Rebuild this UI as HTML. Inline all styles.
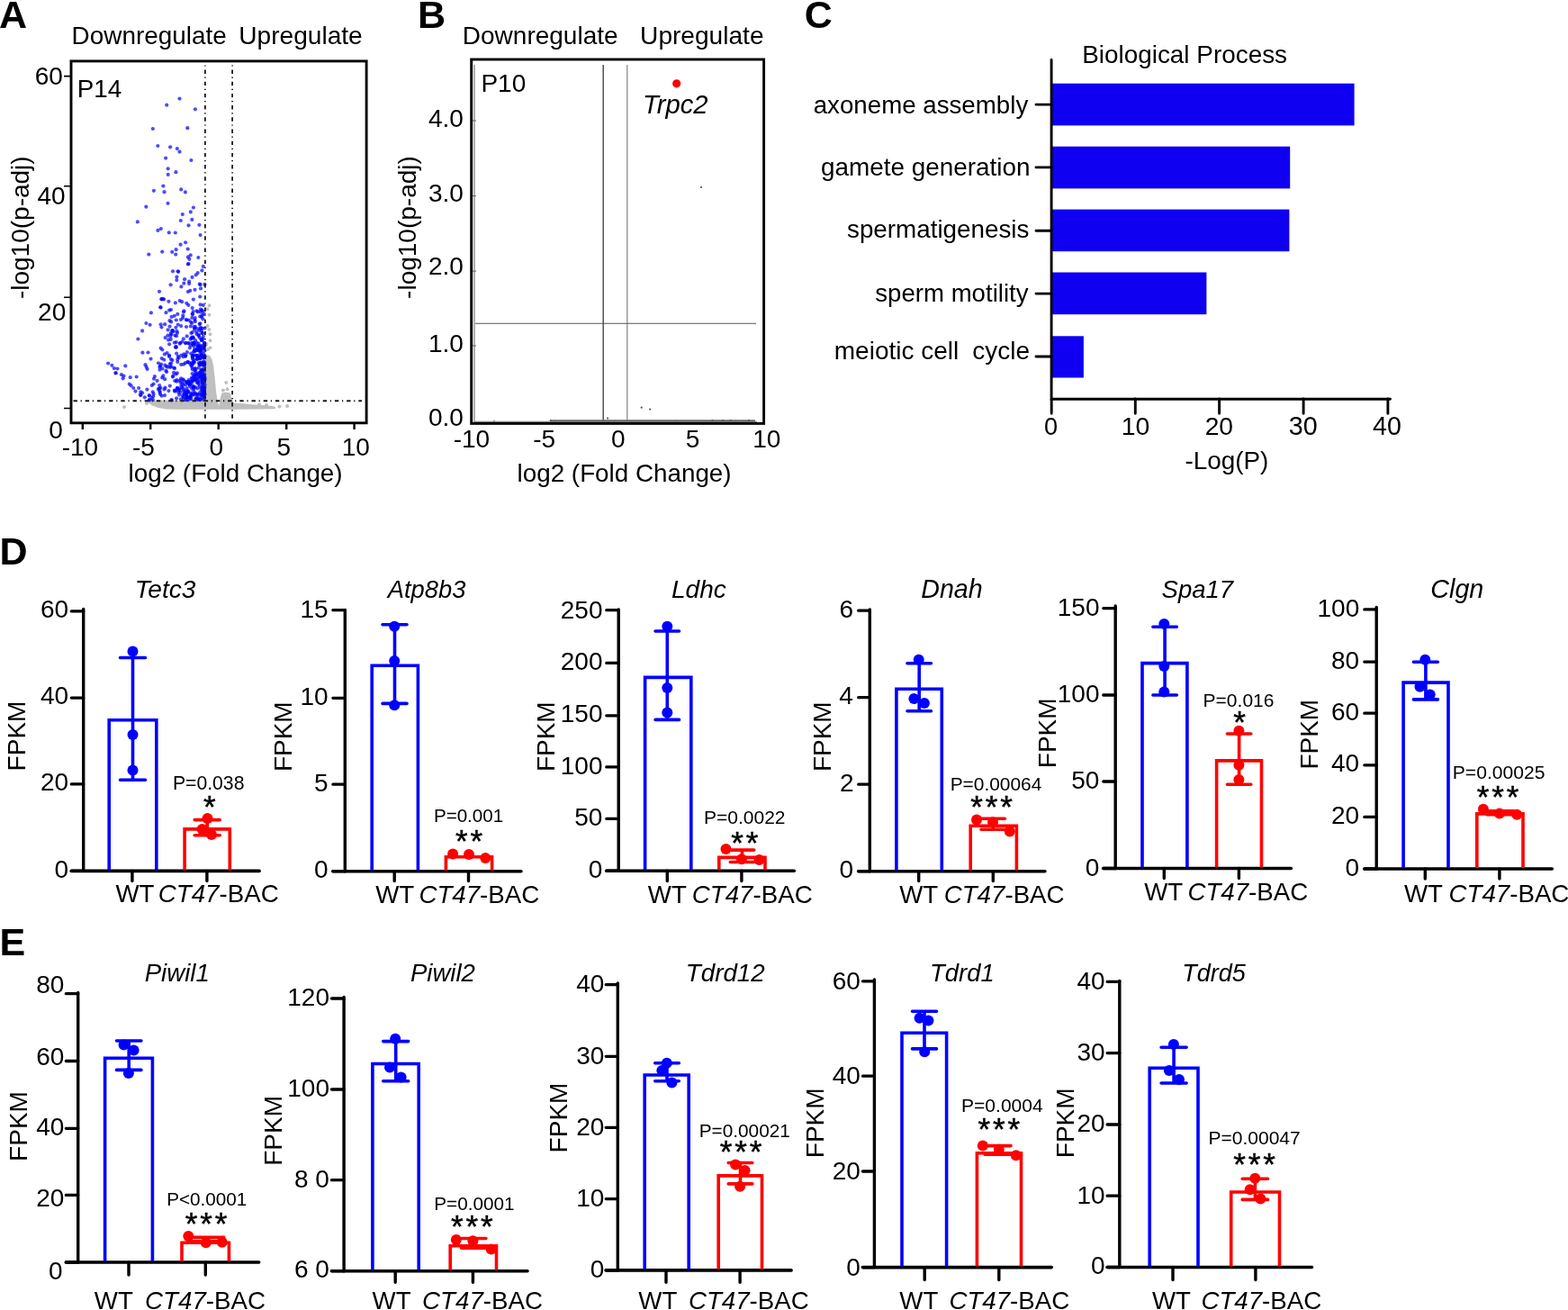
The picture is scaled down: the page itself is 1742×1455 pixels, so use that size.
<!DOCTYPE html><html><head><meta charset="utf-8"><title>Figure</title><style>html,body{margin:0;padding:0;background:#fff;}svg{display:block;}</style></head><body>
<svg width="1742" height="1455" viewBox="0 0 1742 1455" font-family="&#39;Liberation Sans&#39;, Arial, Helvetica, sans-serif" fill="#000">
<rect width="1742" height="1455" fill="#fff"/>
<text x="79.6" y="48.8" font-size="27.9">Downregulate</text>
<text x="265.3" y="48.8" font-size="28.1">Upregulate</text>
<text x="85.8" y="108" font-size="27.8">P14</text>
<text x="38.7" y="94.2" font-size="28">60</text>
<text x="41.4" y="226.8" font-size="28">40</text>
<text x="42.1" y="356" font-size="28">20</text>
<text x="54.2" y="487.2" font-size="28">0</text>
<text transform="translate(31.6 330.8) rotate(-90)" x="-1.3" font-size="28">-log10(p-adj)</text>
<text x="68.7" y="505.9" font-size="28">-10</text>
<text x="146.9" y="505.9" font-size="28">-5</text>
<text x="232.4" y="505.9" font-size="28">0</text>
<text x="307.5" y="505.9" font-size="28">5</text>
<text x="379.8" y="505.9" font-size="28">10</text>
<text x="142.6" y="534.5" font-size="27.8">log2 (Fold Change)</text>
<path d="M164 445.5L175 444.6L228 444.6L228 398L230.5 394L233 395L235.5 399L237.2 406.5L238.8 421L240.2 436L241.5 444L242.6 449L243.3 450.5L244.2 446L245.2 440L246.5 436.5L251 435.5L256 436.8L257.2 443L260 447.5L270 448.3L280 449.3L292 450L300 450.8L305 451.5L306.5 453L305 454.3L260 454.8L200 454.8L185 454.6L176 453L169 450.5L164.5 447Z" fill="#bfbfbf"/>
<path d="M233.5 386.3h0M233.5 378.3h0M233.5 371.3h0M232.3 366h0M230.6 362h0M232.5 349.8h0M232.5 339.3h0M230.4 343.3h0M229.5 382h0M231 388h0M251.3 425h0M252.5 432.3h0M248 433.5h0M254.3 439h0M138 451.9h0M163 448h0M310.5 451.5h0M319 451h0M296 450h0M288 449.5h0" stroke="#bfbfbf" stroke-width="4" stroke-linecap="round" fill="none"/>
<g fill="#0000ff" fill-opacity="0.7"><circle cx="199.5" cy="109.6" r="2.1"/><circle cx="185.2" cy="116.7" r="2.1"/><circle cx="216.9" cy="121.3" r="2.1"/><circle cx="169.8" cy="143" r="2.1"/><circle cx="208.3" cy="142.2" r="2.1"/><circle cx="175.3" cy="162" r="2.1"/><circle cx="189.1" cy="163.3" r="2.1"/><circle cx="196.8" cy="165.1" r="2.1"/><circle cx="199.5" cy="168.6" r="2.1"/><circle cx="184.1" cy="175.6" r="2.1"/><circle cx="212.4" cy="178" r="2.1"/><circle cx="186.7" cy="187.3" r="2.1"/><circle cx="195.4" cy="191.2" r="2.1"/><circle cx="186.7" cy="193.9" r="2.1"/><circle cx="181.4" cy="206.6" r="2.1"/><circle cx="170.9" cy="211.8" r="2.1"/><circle cx="182.5" cy="213.2" r="2.1"/><circle cx="201.2" cy="210.4" r="2.1"/><circle cx="205.9" cy="213.4" r="2.1"/><circle cx="186.5" cy="225.8" r="2.1"/><circle cx="162.3" cy="229.7" r="2.1"/><circle cx="214.9" cy="230.5" r="2.1"/><circle cx="211.8" cy="235.4" r="2.1"/><circle cx="202.8" cy="238.1" r="2.1"/><circle cx="152.8" cy="246.4" r="2.1"/><circle cx="200.8" cy="245" r="2.1"/><circle cx="213.3" cy="243.9" r="2.1"/><circle cx="209.5" cy="250.3" r="2.1"/><circle cx="221.4" cy="249.8" r="2.1"/><circle cx="175.4" cy="255.9" r="2.1"/><circle cx="178.8" cy="254.1" r="2.1"/><circle cx="187.8" cy="258.3" r="2.1"/><circle cx="194.8" cy="258.5" r="2.1"/><circle cx="222.6" cy="261.1" r="2.1"/><circle cx="206.1" cy="269.3" r="2.1"/><circle cx="200.6" cy="271.7" r="2.1"/><circle cx="195.6" cy="277.2" r="2.1"/><circle cx="208.7" cy="276.6" r="2.1"/><circle cx="180.2" cy="279.6" r="2.1"/><circle cx="191.2" cy="279.8" r="2.1"/><circle cx="195.2" cy="282.6" r="2.1"/><circle cx="165.3" cy="282.6" r="2.1"/><circle cx="211.7" cy="283.4" r="2.1"/><circle cx="208.9" cy="285.4" r="2.1"/><circle cx="210.3" cy="287.8" r="2.1"/><circle cx="220.3" cy="286" r="2.1"/><circle cx="208.9" cy="293.4" r="2.1"/><circle cx="209.5" cy="293" r="2.1"/><circle cx="225.8" cy="295.9" r="2.1"/><circle cx="192" cy="301.3" r="2.1"/><circle cx="197.6" cy="301.3" r="2.1"/><circle cx="198.2" cy="301.8" r="2.1"/><circle cx="224.4" cy="300.4" r="2.1"/><circle cx="219.7" cy="303.1" r="2.1"/><circle cx="217.7" cy="305.3" r="2.1"/><circle cx="213.5" cy="307.9" r="2.1"/><circle cx="196.4" cy="307.5" r="2.1"/><circle cx="196.3" cy="311.1" r="2.1"/><circle cx="205.1" cy="310.2" r="2.1"/><circle cx="210.1" cy="312.7" r="2.1"/><circle cx="210.1" cy="315.1" r="2.1"/><circle cx="204.3" cy="314.7" r="2.1"/><circle cx="189.6" cy="316.3" r="2.1"/><circle cx="201.4" cy="318.4" r="2.1"/><circle cx="221.8" cy="315.5" r="2.1"/><circle cx="222.5" cy="316.2" r="2.1"/><circle cx="227.4" cy="315.9" r="2.1"/><circle cx="223" cy="320.4" r="2.1"/><circle cx="216.5" cy="321.8" r="2.1"/><circle cx="177" cy="323.8" r="2.1"/><circle cx="208.9" cy="324" r="2.1"/><circle cx="211.3" cy="322.8" r="2.1"/><circle cx="222.2" cy="329.6" r="2.1"/><circle cx="214.9" cy="332.6" r="2.1"/><circle cx="179.6" cy="332.3" r="2.1"/><circle cx="182" cy="332.3" r="2.1"/><circle cx="187.4" cy="334.8" r="2.1"/><circle cx="194.8" cy="336.4" r="2.1"/><circle cx="199.7" cy="334" r="2.1"/><circle cx="202.1" cy="335.2" r="2.1"/><circle cx="207.3" cy="336.8" r="2.1"/><circle cx="209.3" cy="338.9" r="2.1"/><circle cx="222.6" cy="338.4" r="2.1"/><circle cx="225.8" cy="338.9" r="2.1"/><circle cx="120.1" cy="403.5" r="2.1"/><circle cx="124.3" cy="405.8" r="2.1"/><circle cx="126.8" cy="409.1" r="2.1"/><circle cx="130.4" cy="409.5" r="2.1"/><circle cx="128.4" cy="414" r="2.1"/><circle cx="128.8" cy="414.5" r="2.1"/><circle cx="139.3" cy="406.4" r="2.1"/><circle cx="134.9" cy="416.2" r="2.1"/><circle cx="137.5" cy="417.6" r="2.1"/><circle cx="136.6" cy="420.3" r="2.1"/><circle cx="144.7" cy="419.2" r="2.1"/><circle cx="151.7" cy="418.5" r="2.1"/><circle cx="143.8" cy="426.5" r="2.1"/><circle cx="145.6" cy="428.3" r="2.1"/><circle cx="148.3" cy="431" r="2.1"/><circle cx="150.5" cy="434.6" r="2.1"/><circle cx="154.1" cy="431" r="2.1"/><circle cx="156.3" cy="435.4" r="2.1"/><circle cx="155.9" cy="438.6" r="2.1"/><circle cx="156.4" cy="439" r="2.1"/><circle cx="158.1" cy="436.3" r="2.1"/><circle cx="160.8" cy="441.3" r="2.1"/><circle cx="165.7" cy="439" r="2.1"/><circle cx="166" cy="439.5" r="2.1"/><circle cx="165.7" cy="444.4" r="2.1"/><circle cx="166.2" cy="444" r="2.1"/><circle cx="170.6" cy="437.7" r="2.1"/><circle cx="163.4" cy="432.6" r="2.1"/><circle cx="153.4" cy="376.5" r="2.1"/><circle cx="158.1" cy="367.4" r="2.1"/><circle cx="162.4" cy="359" r="2.1"/><circle cx="166.6" cy="360.8" r="2.1"/><circle cx="167.9" cy="347.4" r="2.1"/><circle cx="158.4" cy="391.7" r="2.1"/><circle cx="164.5" cy="391.5" r="2.1"/><circle cx="167.5" cy="398.6" r="2.1"/><circle cx="161.5" cy="405.2" r="2.1"/><circle cx="162.6" cy="407.7" r="2.1"/><circle cx="163.6" cy="410" r="2.1"/><circle cx="171.9" cy="418" r="2.1"/><circle cx="171" cy="420.7" r="2.1"/><circle cx="174.6" cy="422.9" r="2.1"/><circle cx="170.6" cy="426.5" r="2.1"/><circle cx="178.5" cy="430.8" r="2.1"/><circle cx="176" cy="403.3" r="2.1"/><circle cx="179.1" cy="404.6" r="2.1"/><circle cx="180.4" cy="409.4" r="2.1"/><circle cx="184.9" cy="407" r="2.1"/><circle cx="181.3" cy="417.4" r="2.1"/><circle cx="183.1" cy="421.2" r="2.1"/><circle cx="178.6" cy="386.7" r="2.1"/><circle cx="180.4" cy="388.5" r="2.1"/><circle cx="182.9" cy="393.4" r="2.1"/><circle cx="178.6" cy="360.4" r="2.1"/><circle cx="183.1" cy="360.2" r="2.1"/><circle cx="179.5" cy="363.5" r="2.1"/><circle cx="178.2" cy="341.2" r="2.1"/><circle cx="178.6" cy="341.6" r="2.1"/><circle cx="179.5" cy="332.2" r="2.1"/><circle cx="181" cy="332.2" r="2.1"/><circle cx="183.6" cy="375.1" r="2.1"/><circle cx="187.1" cy="377.4" r="2.1"/><circle cx="189.8" cy="376.9" r="2.1"/><circle cx="223.8" cy="437.8" r="2.1"/><circle cx="218.5" cy="441.7" r="2.1"/><circle cx="220.4" cy="425.2" r="2.1"/><circle cx="227.2" cy="415.9" r="2.1"/><circle cx="227.3" cy="420.8" r="2.1"/><circle cx="227" cy="440.9" r="2.1"/><circle cx="222.3" cy="393.2" r="2.1"/><circle cx="226.5" cy="433.8" r="2.1"/><circle cx="218.9" cy="384" r="2.1"/><circle cx="219.8" cy="423.2" r="2.1"/><circle cx="212.5" cy="442.9" r="2.1"/><circle cx="214.7" cy="429.9" r="2.1"/><circle cx="226.2" cy="439.5" r="2.1"/><circle cx="224" cy="394" r="2.1"/><circle cx="225.8" cy="410.8" r="2.1"/><circle cx="218.7" cy="424.8" r="2.1"/><circle cx="220.2" cy="442.2" r="2.1"/><circle cx="227.1" cy="434.8" r="2.1"/><circle cx="218" cy="421.2" r="2.1"/><circle cx="223.9" cy="410.6" r="2.1"/><circle cx="221.8" cy="429.3" r="2.1"/><circle cx="215.9" cy="402.5" r="2.1"/><circle cx="224.9" cy="411.3" r="2.1"/><circle cx="220.6" cy="389.5" r="2.1"/><circle cx="217.1" cy="430" r="2.1"/><circle cx="212.4" cy="439.5" r="2.1"/><circle cx="222.4" cy="398.3" r="2.1"/><circle cx="226.1" cy="417.2" r="2.1"/><circle cx="227.3" cy="404.7" r="2.1"/><circle cx="216.4" cy="411.4" r="2.1"/><circle cx="214.4" cy="428.5" r="2.1"/><circle cx="217.7" cy="410" r="2.1"/><circle cx="219.7" cy="419.3" r="2.1"/><circle cx="215.1" cy="384.3" r="2.1"/><circle cx="221.5" cy="405" r="2.1"/><circle cx="227.1" cy="402.4" r="2.1"/><circle cx="218.5" cy="380.5" r="2.1"/><circle cx="215.4" cy="430.2" r="2.1"/><circle cx="222.9" cy="404.7" r="2.1"/><circle cx="227.5" cy="419" r="2.1"/><circle cx="225.9" cy="439.6" r="2.1"/><circle cx="227.1" cy="397.5" r="2.1"/><circle cx="226.4" cy="432.4" r="2.1"/><circle cx="222.8" cy="389.8" r="2.1"/><circle cx="226.9" cy="419.8" r="2.1"/><circle cx="220.2" cy="388.9" r="2.1"/><circle cx="215.4" cy="390.4" r="2.1"/><circle cx="224.4" cy="422" r="2.1"/><circle cx="223.3" cy="388.9" r="2.1"/><circle cx="212.8" cy="437.8" r="2.1"/><circle cx="225.8" cy="433.3" r="2.1"/><circle cx="225.1" cy="417.4" r="2.1"/><circle cx="219.5" cy="431.5" r="2.1"/><circle cx="227.6" cy="421.8" r="2.1"/><circle cx="223.1" cy="411.9" r="2.1"/><circle cx="212.9" cy="403.1" r="2.1"/><circle cx="220.8" cy="408.3" r="2.1"/><circle cx="218" cy="442.6" r="2.1"/><circle cx="213.9" cy="396.6" r="2.1"/><circle cx="214.4" cy="395.3" r="2.1"/><circle cx="222.8" cy="423.1" r="2.1"/><circle cx="226.7" cy="407.1" r="2.1"/><circle cx="227.1" cy="442" r="2.1"/><circle cx="225.4" cy="437.2" r="2.1"/><circle cx="223.5" cy="442.6" r="2.1"/><circle cx="227.6" cy="437.8" r="2.1"/><circle cx="226.7" cy="425.3" r="2.1"/><circle cx="227.4" cy="389.6" r="2.1"/><circle cx="219.1" cy="438" r="2.1"/><circle cx="224.8" cy="426.4" r="2.1"/><circle cx="223.2" cy="439.3" r="2.1"/><circle cx="214.9" cy="380.5" r="2.1"/><circle cx="221.6" cy="417.5" r="2.1"/><circle cx="226.9" cy="440.3" r="2.1"/><circle cx="223.5" cy="431.4" r="2.1"/><circle cx="215.3" cy="437.3" r="2.1"/><circle cx="227.5" cy="383.8" r="2.1"/><circle cx="220.6" cy="438.1" r="2.1"/><circle cx="220.3" cy="443.7" r="2.1"/><circle cx="220.6" cy="381.7" r="2.1"/><circle cx="214.6" cy="402.7" r="2.1"/><circle cx="224.7" cy="425.1" r="2.1"/><circle cx="225.9" cy="397.2" r="2.1"/><circle cx="220.5" cy="396.7" r="2.1"/><circle cx="223.7" cy="433.8" r="2.1"/><circle cx="215.6" cy="381.2" r="2.1"/><circle cx="214.8" cy="394.7" r="2.1"/><circle cx="215.5" cy="399.6" r="2.1"/><circle cx="225.2" cy="415.2" r="2.1"/><circle cx="223.3" cy="443.6" r="2.1"/><circle cx="227.4" cy="430.5" r="2.1"/><circle cx="224.7" cy="403" r="2.1"/><circle cx="212.8" cy="419.9" r="2.1"/><circle cx="213.2" cy="380.9" r="2.1"/><circle cx="212.9" cy="425.3" r="2.1"/><circle cx="225.2" cy="433.6" r="2.1"/><circle cx="225.6" cy="434.9" r="2.1"/><circle cx="218.9" cy="387.6" r="2.1"/><circle cx="215" cy="417.8" r="2.1"/><circle cx="218.4" cy="395.2" r="2.1"/><circle cx="226.9" cy="405.3" r="2.1"/><circle cx="213.7" cy="396.5" r="2.1"/><circle cx="216.7" cy="417.9" r="2.1"/><circle cx="225.8" cy="396" r="2.1"/><circle cx="223.7" cy="395.1" r="2.1"/><circle cx="212.6" cy="423.3" r="2.1"/><circle cx="222.6" cy="384.1" r="2.1"/><circle cx="217.2" cy="436.8" r="2.1"/><circle cx="226.4" cy="437.8" r="2.1"/><circle cx="213.8" cy="394.7" r="2.1"/><circle cx="226.2" cy="393.2" r="2.1"/><circle cx="212.4" cy="405.5" r="2.1"/><circle cx="223.4" cy="413.1" r="2.1"/><circle cx="226.4" cy="444.1" r="2.1"/><circle cx="212.6" cy="406.1" r="2.1"/><circle cx="220.6" cy="385.1" r="2.1"/><circle cx="222.1" cy="389.8" r="2.1"/><circle cx="215.3" cy="434.5" r="2.1"/><circle cx="224.8" cy="429.7" r="2.1"/><circle cx="225" cy="410.5" r="2.1"/><circle cx="224.7" cy="421.8" r="2.1"/><circle cx="226.4" cy="386.9" r="2.1"/><circle cx="223.3" cy="419.2" r="2.1"/><circle cx="219.6" cy="387.3" r="2.1"/><circle cx="222.3" cy="386.3" r="2.1"/><circle cx="221" cy="414.3" r="2.1"/><circle cx="220.7" cy="444" r="2.1"/><circle cx="222" cy="436.1" r="2.1"/><circle cx="227.6" cy="395.2" r="2.1"/><circle cx="225.9" cy="418.2" r="2.1"/><circle cx="217.2" cy="412.6" r="2.1"/><circle cx="223.8" cy="415.2" r="2.1"/><circle cx="220.1" cy="396.3" r="2.1"/><circle cx="226.7" cy="412.3" r="2.1"/><circle cx="224.9" cy="430.7" r="2.1"/><circle cx="216.3" cy="415.9" r="2.1"/><circle cx="220" cy="398.1" r="2.1"/><circle cx="213.7" cy="420.2" r="2.1"/><circle cx="219.1" cy="416.1" r="2.1"/><circle cx="220.8" cy="403" r="2.1"/><circle cx="221.8" cy="414.2" r="2.1"/><circle cx="221.4" cy="384.5" r="2.1"/><circle cx="217.6" cy="389.4" r="2.1"/><circle cx="213.1" cy="431.7" r="2.1"/><circle cx="220.1" cy="384.4" r="2.1"/><circle cx="215.1" cy="438.6" r="2.1"/><circle cx="226.5" cy="420.3" r="2.1"/><circle cx="227" cy="432.8" r="2.1"/><circle cx="227" cy="404.6" r="2.1"/><circle cx="216.1" cy="387.9" r="2.1"/><circle cx="226.1" cy="401.3" r="2.1"/><circle cx="218.3" cy="438.2" r="2.1"/><circle cx="214.3" cy="382.5" r="2.1"/><circle cx="225.3" cy="383.7" r="2.1"/><circle cx="222.7" cy="417.3" r="2.1"/><circle cx="212.2" cy="392.7" r="2.1"/><circle cx="226" cy="421" r="2.1"/><circle cx="220.8" cy="426.9" r="2.1"/><circle cx="225.6" cy="428.2" r="2.1"/><circle cx="217.2" cy="443.9" r="2.1"/><circle cx="220.1" cy="420.4" r="2.1"/><circle cx="227.5" cy="427.4" r="2.1"/><circle cx="218.9" cy="415.6" r="2.1"/><circle cx="227.1" cy="381.2" r="2.1"/><circle cx="216" cy="382.2" r="2.1"/><circle cx="226.7" cy="431.4" r="2.1"/><circle cx="227.3" cy="396.7" r="2.1"/><circle cx="224.6" cy="438.9" r="2.1"/><circle cx="222.3" cy="386.8" r="2.1"/><circle cx="215.4" cy="431.8" r="2.1"/><circle cx="209.5" cy="425.7" r="2.1"/><circle cx="202.3" cy="430.1" r="2.1"/><circle cx="210.5" cy="443.3" r="2.1"/><circle cx="200.3" cy="435.8" r="2.1"/><circle cx="210.8" cy="425.3" r="2.1"/><circle cx="201.2" cy="428.1" r="2.1"/><circle cx="210.6" cy="426.9" r="2.1"/><circle cx="210.9" cy="426.8" r="2.1"/><circle cx="204.3" cy="437.5" r="2.1"/><circle cx="202.6" cy="425.5" r="2.1"/><circle cx="207.4" cy="441.9" r="2.1"/><circle cx="203" cy="439.6" r="2.1"/><circle cx="210.1" cy="441.2" r="2.1"/><circle cx="211.1" cy="440.4" r="2.1"/><circle cx="206.7" cy="438.2" r="2.1"/><circle cx="199.1" cy="438.6" r="2.1"/><circle cx="203.5" cy="440.9" r="2.1"/><circle cx="206.1" cy="444.1" r="2.1"/><circle cx="207.7" cy="444.2" r="2.1"/><circle cx="199.5" cy="433.2" r="2.1"/><circle cx="208.8" cy="434.8" r="2.1"/><circle cx="196.1" cy="442.3" r="2.1"/><circle cx="198.1" cy="435.6" r="2.1"/><circle cx="203.6" cy="427.4" r="2.1"/><circle cx="205.3" cy="434.1" r="2.1"/><circle cx="200.3" cy="424.4" r="2.1"/><circle cx="206.2" cy="427.4" r="2.1"/><circle cx="200" cy="431.5" r="2.1"/><circle cx="205.1" cy="437.4" r="2.1"/><circle cx="211.1" cy="441.8" r="2.1"/><circle cx="210.8" cy="429.3" r="2.1"/><circle cx="207.7" cy="441.2" r="2.1"/><circle cx="210.6" cy="427.3" r="2.1"/><circle cx="197.2" cy="430.8" r="2.1"/><circle cx="207.2" cy="439.5" r="2.1"/><circle cx="207" cy="435.1" r="2.1"/><circle cx="209.3" cy="435.4" r="2.1"/><circle cx="207.5" cy="424.8" r="2.1"/><circle cx="195.5" cy="433.3" r="2.1"/><circle cx="207.8" cy="424.7" r="2.1"/><circle cx="206.7" cy="437.2" r="2.1"/><circle cx="212" cy="436.7" r="2.1"/><circle cx="203.9" cy="434.2" r="2.1"/><circle cx="208.6" cy="434.2" r="2.1"/><circle cx="211.9" cy="439.1" r="2.1"/><circle cx="207.9" cy="391.2" r="2.1"/><circle cx="209.8" cy="422.2" r="2.1"/><circle cx="201.2" cy="404.9" r="2.1"/><circle cx="193.8" cy="380.6" r="2.1"/><circle cx="189.7" cy="370.1" r="2.1"/><circle cx="190.6" cy="351.9" r="2.1"/><circle cx="198.8" cy="397.3" r="2.1"/><circle cx="184.3" cy="411.7" r="2.1"/><circle cx="190.4" cy="371.3" r="2.1"/><circle cx="209.7" cy="355.5" r="2.1"/><circle cx="186.4" cy="372.6" r="2.1"/><circle cx="190.1" cy="357.4" r="2.1"/><circle cx="206.2" cy="381.1" r="2.1"/><circle cx="195.8" cy="355.5" r="2.1"/><circle cx="188.5" cy="356.2" r="2.1"/><circle cx="193.8" cy="350.8" r="2.1"/><circle cx="191.4" cy="367.1" r="2.1"/><circle cx="203.4" cy="421.4" r="2.1"/><circle cx="206.4" cy="394.4" r="2.1"/><circle cx="207.4" cy="355.5" r="2.1"/><circle cx="194.4" cy="372.5" r="2.1"/><circle cx="192.7" cy="368.2" r="2.1"/><circle cx="196.2" cy="423.7" r="2.1"/><circle cx="188.6" cy="362.6" r="2.1"/><circle cx="195.8" cy="380.1" r="2.1"/><circle cx="191.9" cy="418.6" r="2.1"/><circle cx="190.1" cy="403.3" r="2.1"/><circle cx="208.5" cy="402.2" r="2.1"/><circle cx="190.2" cy="407.2" r="2.1"/><circle cx="190" cy="344" r="2.1"/><circle cx="196.1" cy="392.6" r="2.1"/><circle cx="196.5" cy="367.9" r="2.1"/><circle cx="189.4" cy="373.4" r="2.1"/><circle cx="192.3" cy="417.6" r="2.1"/><circle cx="205.9" cy="403.2" r="2.1"/><circle cx="189.9" cy="399" r="2.1"/><circle cx="194.2" cy="423" r="2.1"/><circle cx="209" cy="402" r="2.1"/><circle cx="191.6" cy="367.2" r="2.1"/><circle cx="191.5" cy="400.1" r="2.1"/><circle cx="195.5" cy="385.9" r="2.1"/><circle cx="196.8" cy="414.3" r="2.1"/><circle cx="186.4" cy="407.7" r="2.1"/><circle cx="184.5" cy="347.2" r="2.1"/><circle cx="210.9" cy="386.4" r="2.1"/><circle cx="188.1" cy="344.6" r="2.1"/><circle cx="197.2" cy="402" r="2.1"/><circle cx="204" cy="346.5" r="2.1"/><circle cx="203.9" cy="376.3" r="2.1"/><circle cx="206.1" cy="381" r="2.1"/><circle cx="185.1" cy="413.1" r="2.1"/><circle cx="188.1" cy="382.3" r="2.1"/><circle cx="186.6" cy="366.3" r="2.1"/><circle cx="203.3" cy="350.4" r="2.1"/><circle cx="196.3" cy="422" r="2.1"/><circle cx="211.7" cy="383.7" r="2.1"/><circle cx="197.2" cy="399.2" r="2.1"/><circle cx="206.2" cy="395.8" r="2.1"/><circle cx="200.9" cy="355.1" r="2.1"/><circle cx="211.8" cy="362.4" r="2.1"/><circle cx="215" cy="375.4" r="2.1"/><circle cx="213.4" cy="352.9" r="2.1"/><circle cx="213.8" cy="369" r="2.1"/><circle cx="222.8" cy="365.1" r="2.1"/><circle cx="212" cy="357.6" r="2.1"/><circle cx="223" cy="363.7" r="2.1"/><circle cx="224.3" cy="378.2" r="2.1"/><circle cx="226.6" cy="348.3" r="2.1"/><circle cx="224.1" cy="344.4" r="2.1"/><circle cx="224.7" cy="369.9" r="2.1"/><circle cx="220.6" cy="372.8" r="2.1"/><circle cx="222.8" cy="343.7" r="2.1"/><circle cx="214.1" cy="349.1" r="2.1"/><circle cx="218.6" cy="345.3" r="2.1"/><circle cx="213.1" cy="359.1" r="2.1"/><circle cx="217.1" cy="378.1" r="2.1"/><circle cx="216.9" cy="362.9" r="2.1"/><circle cx="216.5" cy="355.5" r="2.1"/><circle cx="224.1" cy="378.1" r="2.1"/><circle cx="213.4" cy="375.2" r="2.1"/><circle cx="221.3" cy="366.9" r="2.1"/><circle cx="224" cy="351.9" r="2.1"/><circle cx="212.4" cy="370.1" r="2.1"/><circle cx="218.2" cy="368.6" r="2.1"/><circle cx="219.9" cy="365" r="2.1"/><circle cx="225.8" cy="373.9" r="2.1"/><circle cx="225.2" cy="345.6" r="2.1"/><circle cx="220.9" cy="371.6" r="2.1"/><circle cx="213.7" cy="342.1" r="2.1"/><circle cx="221.6" cy="374.7" r="2.1"/><circle cx="225.4" cy="376.6" r="2.1"/><circle cx="223.3" cy="376.5" r="2.1"/><circle cx="224.8" cy="370.2" r="2.1"/><circle cx="219.7" cy="346.3" r="2.1"/><circle cx="216.6" cy="364.3" r="2.1"/><circle cx="177.4" cy="434.3" r="2.1"/><circle cx="178" cy="437.9" r="2.1"/><circle cx="183" cy="439.1" r="2.1"/><circle cx="168.5" cy="442" r="2.1"/><circle cx="175.9" cy="432.2" r="2.1"/><circle cx="170.2" cy="440.3" r="2.1"/><circle cx="179.7" cy="439.7" r="2.1"/><circle cx="177.6" cy="435.8" r="2.1"/><circle cx="168.7" cy="428" r="2.1"/><circle cx="170" cy="444.1" r="2.1"/><circle cx="183.5" cy="430.7" r="2.1"/><circle cx="169.7" cy="435.3" r="2.1"/><circle cx="190.9" cy="444.5" r="2.1"/><circle cx="197.9" cy="395.8" r="2.1"/><circle cx="182.3" cy="399.6" r="2.1"/><circle cx="177" cy="431.5" r="2.1"/><circle cx="208.1" cy="436.4" r="2.1"/><circle cx="193.2" cy="408.7" r="2.1"/><circle cx="178.1" cy="406.6" r="2.1"/><circle cx="188.7" cy="404.3" r="2.1"/><circle cx="195.5" cy="415.5" r="2.1"/><circle cx="210.6" cy="403.4" r="2.1"/><circle cx="203.6" cy="396.2" r="2.1"/><circle cx="188.8" cy="428.6" r="2.1"/><circle cx="207.4" cy="431.3" r="2.1"/><circle cx="189.1" cy="407.8" r="2.1"/><circle cx="208" cy="440.8" r="2.1"/><circle cx="193.1" cy="413.9" r="2.1"/><circle cx="198" cy="432.8" r="2.1"/><circle cx="190.4" cy="444" r="2.1"/><circle cx="201.1" cy="420.3" r="2.1"/><circle cx="177.5" cy="410.7" r="2.1"/><circle cx="180.2" cy="419.5" r="2.1"/><circle cx="203.5" cy="431.5" r="2.1"/><circle cx="177.4" cy="407.5" r="2.1"/><circle cx="200.9" cy="443.4" r="2.1"/><circle cx="194.1" cy="409.1" r="2.1"/><circle cx="196.9" cy="431" r="2.1"/><circle cx="188" cy="395.9" r="2.1"/><circle cx="203.8" cy="442.7" r="2.1"/><circle cx="199.8" cy="422.4" r="2.1"/><circle cx="187.4" cy="434.1" r="2.1"/><circle cx="183.3" cy="405.7" r="2.1"/><circle cx="193.8" cy="433.7" r="2.1"/><circle cx="177.1" cy="428.1" r="2.1"/><circle cx="182.5" cy="432.4" r="2.1"/><circle cx="204" cy="404.6" r="2.1"/><circle cx="201.4" cy="394.5" r="2.1"/><circle cx="194.2" cy="434.7" r="2.1"/><circle cx="204" cy="422.6" r="2.1"/><circle cx="188" cy="394.7" r="2.1"/><circle cx="206.7" cy="423.8" r="2.1"/><circle cx="204.3" cy="393.4" r="2.1"/><circle cx="206.9" cy="441.8" r="2.1"/><circle cx="209.8" cy="423.9" r="2.1"/><circle cx="179.7" cy="398.1" r="2.1"/><circle cx="185.6" cy="392.1" r="2.1"/><circle cx="214" cy="398.7" r="2.1"/><circle cx="224.9" cy="350.1" r="2.1"/><circle cx="216.7" cy="422.4" r="2.1"/><circle cx="217.9" cy="394.7" r="2.1"/><circle cx="222.1" cy="398.5" r="2.1"/><circle cx="225.1" cy="424.8" r="2.1"/><circle cx="223.5" cy="396.9" r="2.1"/><circle cx="213.6" cy="415.1" r="2.1"/><circle cx="213.5" cy="408.4" r="2.1"/><circle cx="222.4" cy="359.3" r="2.1"/><circle cx="215.6" cy="390.4" r="2.1"/><circle cx="226.9" cy="387.1" r="2.1"/><circle cx="222.2" cy="351.4" r="2.1"/><circle cx="224.8" cy="395.9" r="2.1"/><circle cx="214.5" cy="422.6" r="2.1"/><circle cx="221.6" cy="360.1" r="2.1"/><circle cx="216.4" cy="421.7" r="2.1"/><circle cx="227.1" cy="420" r="2.1"/><circle cx="214.2" cy="404.4" r="2.1"/><circle cx="216.7" cy="353.1" r="2.1"/><circle cx="222.6" cy="403.2" r="2.1"/><circle cx="213.6" cy="375.6" r="2.1"/><circle cx="223.8" cy="367.7" r="2.1"/><circle cx="223" cy="402.9" r="2.1"/><circle cx="227.5" cy="364.5" r="2.1"/><circle cx="214.2" cy="374.3" r="2.1"/><circle cx="213.8" cy="423.1" r="2.1"/><circle cx="224.2" cy="387" r="2.1"/><circle cx="213.6" cy="348.7" r="2.1"/><circle cx="222" cy="404.9" r="2.1"/><circle cx="221.3" cy="385.5" r="2.1"/><circle cx="214" cy="410.4" r="2.1"/><circle cx="215.9" cy="365.9" r="2.1"/><circle cx="215.6" cy="363.2" r="2.1"/><circle cx="218.7" cy="398.8" r="2.1"/><circle cx="222.9" cy="396.1" r="2.1"/><circle cx="216.2" cy="418.7" r="2.1"/><circle cx="224.7" cy="364.8" r="2.1"/><circle cx="224" cy="419.8" r="2.1"/><circle cx="227.1" cy="380.8" r="2.1"/><circle cx="222.8" cy="346.6" r="2.1"/><circle cx="214.7" cy="346" r="2.1"/><circle cx="223.7" cy="418.3" r="2.1"/><circle cx="226.2" cy="385.1" r="2.1"/><circle cx="217.2" cy="389.2" r="2.1"/><circle cx="224.2" cy="391.7" r="2.1"/><circle cx="218.5" cy="371.1" r="2.1"/><circle cx="216.7" cy="357.2" r="2.1"/><circle cx="217.9" cy="415.3" r="2.1"/><circle cx="215.3" cy="401.5" r="2.1"/><circle cx="219.3" cy="395.2" r="2.1"/><circle cx="216.8" cy="409.1" r="2.1"/><circle cx="224" cy="405.4" r="2.1"/><circle cx="225.4" cy="354.3" r="2.1"/><circle cx="219.2" cy="398.9" r="2.1"/><circle cx="204.4" cy="345.3" r="2.1"/><circle cx="202.5" cy="379.6" r="2.1"/><circle cx="197.8" cy="360.6" r="2.1"/><circle cx="195.1" cy="385.4" r="2.1"/><circle cx="203.1" cy="353.1" r="2.1"/><circle cx="197.3" cy="348.9" r="2.1"/><circle cx="211.6" cy="376.8" r="2.1"/><circle cx="209.7" cy="381.5" r="2.1"/><circle cx="195.4" cy="363.8" r="2.1"/><circle cx="196" cy="373.2" r="2.1"/><circle cx="197" cy="369.8" r="2.1"/><circle cx="206.9" cy="355" r="2.1"/><circle cx="195.8" cy="385.2" r="2.1"/><circle cx="201.1" cy="362.1" r="2.1"/><circle cx="207.7" cy="373.4" r="2.1"/><circle cx="209.2" cy="380.8" r="2.1"/><circle cx="207" cy="363" r="2.1"/><circle cx="200.2" cy="380.8" r="2.1"/><circle cx="212.5" cy="375.3" r="2.1"/><circle cx="199.8" cy="381.7" r="2.1"/></g>
<path d="M227.9 69.5V466.7" stroke="#1a1a1a" stroke-width="1.8" fill="none" stroke-dasharray="4.4 3.7 1.2 3.9" stroke-dashoffset="5.2"/>
<path d="M258.1 69.5V466.7" stroke="#1a1a1a" stroke-width="1.8" fill="none" stroke-dasharray="4.4 3.7 1.2 3.9" stroke-dashoffset="5.2"/>
<path d="M81.5 445.3H402" stroke="#1a1a1a" stroke-width="1.9" fill="none" stroke-dasharray="4.4 3.7 1.2 3.9"/>
<rect x="79" y="67.9" width="328.1" height="401.9" fill="none" stroke="#000" stroke-width="2.9"/>
<path d="M71 84.6H78M71 206.8H78M71 330.3H78M71 453.5H78" stroke="#000" stroke-width="1.6" fill="none"/>
<path d="M91.8 470V477M167.2 470V477M242.7 470V477M318.2 470V477M393.6 470V477" stroke="#000" stroke-width="2.4" fill="none"/>
<text x="513.8" y="48.8" font-size="28">Downregulate</text>
<text x="711.1" y="48.8" font-size="28.1">Upregulate</text>
<text x="534.4" y="101.7" font-size="28">P10</text>
<text x="714.1" y="125.8" font-size="29.2" font-style="italic">Trpc2</text>
<text x="476" y="141" font-size="28">4.0</text>
<text x="476" y="223.5" font-size="28">3.0</text>
<text x="476" y="305" font-size="28">2.0</text>
<text x="476" y="391" font-size="28">1.0</text>
<text x="476" y="472.7" font-size="28">0.0</text>
<text transform="translate(461.9 330.6) rotate(-90)" x="-1.3" font-size="28">-log10(p-adj)</text>
<text x="503.7" y="496.8" font-size="28">-10</text>
<text x="592.3" y="496.8" font-size="28">-5</text>
<text x="679.1" y="496.8" font-size="28">0</text>
<text x="761.7" y="496.8" font-size="28">5</text>
<text x="836.3" y="496.8" font-size="28">10</text>
<text x="574.6" y="534.6" font-size="27.8">log2 (Fold Change)</text>
<path d="M527 72V468.4H841" stroke="#8a8a8a" stroke-width="1.3" fill="none"/>
<path d="M525 134H529M525 217.6H529M525 301.1H529M525 384H529M549 466.5V471M616 466.5V471M683 466.5V471M750.4 466.5V471M817.5 466.5V471" stroke="#666" stroke-width="1" fill="none"/>
<path d="M670.2 72V468" stroke="#444" stroke-width="1.4" fill="none"/>
<path d="M696.8 72V468" stroke="#777" stroke-width="1.1" fill="none"/>
<path d="M528 359.2H840" stroke="#555" stroke-width="1.1" fill="none"/>
<path d="M611 467.3H839" stroke="#6a6a6a" stroke-width="2.2" fill="none"/>
<path d="M611.8 467h0M791.5 467h0M811.8 467h0M832 467h0M803 467h0M712.7 452.7h0M722.1 454.6h0M675.1 464.6h0M779 208h0" stroke="#555" stroke-width="2.2" stroke-linecap="round" fill="none"/>
<circle cx="751.7" cy="92.8" r="4.6" fill="#ff0000"/>
<rect x="523.7" y="66" width="324.9" height="404.4" fill="none" stroke="#000" stroke-width="2.9"/>
<rect x="1169" y="92.7" width="335.6" height="46.7" fill="#0f00f2"/>
<rect x="1169" y="162.7" width="264.2" height="46.7" fill="#0f00f2"/>
<rect x="1169" y="232.6" width="263.4" height="46.6" fill="#0f00f2"/>
<rect x="1169" y="302.5" width="171.4" height="46.7" fill="#0f00f2"/>
<rect x="1169" y="373.3" width="34.9" height="46.2" fill="#0f00f2"/>
<path d="M1168.1 66.5V443.2H1544.5" stroke="#000" stroke-width="2.9" fill="none" stroke-linecap="round"/>
<path d="M1151 116.1H1168M1151 185.9H1168M1151 256.2H1168M1151 326.1H1168M1151 396H1168" stroke="#000" stroke-width="2.9" fill="none" stroke-linecap="round"/>
<path d="M1168.2 443V459.3M1261.3 443V459.3M1354.6 443V459.3M1448.1 443V459.3M1541.9 443V459.3" stroke="#000" stroke-width="2.9" fill="none" stroke-linecap="round"/>
<text x="1202.2" y="69.7" font-size="27.9">Biological Process</text>
<text x="903.7" y="126.4" font-size="27.7">axoneme assembly</text>
<text x="912" y="195.3" font-size="27.9">gamete generation</text>
<text x="941" y="263.7" font-size="27.8">spermatigenesis</text>
<text x="972.3" y="334.5" font-size="27.6">sperm motility</text>
<text x="926.8" y="398.7" font-size="28">meiotic cell</text>
<text x="1080.2" y="398.7" font-size="28">cycle</text>
<text x="1160.1" y="483" font-size="27.1">0</text>
<text x="1245.7" y="483" font-size="28.4">10</text>
<text x="1338.7" y="483" font-size="28.2">20</text>
<text x="1431.8" y="483" font-size="28.7">30</text>
<text x="1525.1" y="483" font-size="28.6">40</text>
<text x="1316.4" y="521" font-size="27.9">-Log(P)</text>
<path d="M92.7 676.5V967.4" stroke="#000" stroke-width="3.4" fill="none" stroke-linecap="round"/>
<path d="M79.3 967.4H288.1" stroke="#000" stroke-width="3.6" fill="none" stroke-linecap="round"/>
<path d="M79.3 678.9H92.7M79.3 775.1H92.7M79.3 870.9H92.7M79.3 967.4H92.7" stroke="#000" stroke-width="3.3" fill="none" stroke-linecap="round"/>
<text x="45" y="686.3" font-size="28">60</text>
<text x="45" y="782.2" font-size="28">40</text>
<text x="45" y="878.2" font-size="28">20</text>
<text x="60.5" y="974.6" font-size="28">0</text>
<path d="M146.9 967.4V978.6M229.9 967.4V978.6" stroke="#000" stroke-width="3.4" fill="none" stroke-linecap="round"/>
<path d="M121.2 966.4V799.8H173.8V966.4" stroke="#0000ff" stroke-width="3.6" fill="none"/>
<path d="M205.1 966.4V920.9H255.3V966.4" stroke="#ff0000" stroke-width="3.6" fill="none"/>
<path d="M147.5 730.5V866.3M133.5 730.5H161.5M133.5 866.3H161.5" stroke="#0000ff" stroke-width="3.6" fill="none" stroke-linecap="round"/>
<path d="M230.2 910.6V927.8M216.2 910.6H244.2M216.2 927.8H244.2" stroke="#ff0000" stroke-width="3.6" fill="none" stroke-linecap="round"/>
<circle cx="147.5" cy="723.5" r="6" fill="#0000ff"/>
<circle cx="147.5" cy="816" r="6" fill="#0000ff"/>
<circle cx="147.5" cy="855.4" r="6" fill="#0000ff"/>
<circle cx="230.5" cy="909" r="6" fill="#ff0000"/>
<circle cx="224.6" cy="921" r="6" fill="#ff0000"/>
<circle cx="235" cy="927" r="6" fill="#ff0000"/>
<text x="149.7" y="663.9" font-size="28.1" font-style="italic">Tetc3</text>
<text x="191.9" y="876.6" font-size="21.2">P=0.038</text>
<text x="226" y="907.6" font-size="35" stroke="#000" stroke-width="0.5">*</text>
<text x="128.4" y="1002.2" font-size="27.7">WT</text>
<text x="175.8" y="1002.2" font-size="27.7"><tspan font-style="italic">CT47</tspan>-BAC</text>
<text transform="translate(28.1 817.5) rotate(-90)" text-anchor="middle" font-size="28">FPKM</text>
<path d="M383.3 677.5V967.7" stroke="#000" stroke-width="3.4" fill="none" stroke-linecap="round"/>
<path d="M369.9 967.7H578.9" stroke="#000" stroke-width="3.6" fill="none" stroke-linecap="round"/>
<path d="M369.9 677.7H383.3M369.9 775.3H383.3M369.9 871.2H383.3M369.9 967.7H383.3" stroke="#000" stroke-width="3.3" fill="none" stroke-linecap="round"/>
<text x="333.5" y="685.6" font-size="28">15</text>
<text x="333.4" y="783" font-size="28">10</text>
<text x="349.1" y="878.7" font-size="28">5</text>
<text x="348.9" y="975.2" font-size="28">0</text>
<path d="M438.2 967.7V978.6M520.5 967.7V978.6" stroke="#000" stroke-width="3.4" fill="none" stroke-linecap="round"/>
<path d="M413.2 966.7V739.3H464.4V966.7" stroke="#0000ff" stroke-width="3.6" fill="none"/>
<path d="M495.4 966.7V951.7H546.6V966.7" stroke="#ff0000" stroke-width="3.6" fill="none"/>
<path d="M438.5 693.8V781.4M425 693.8H452M425 781.4H452" stroke="#0000ff" stroke-width="3.6" fill="none" stroke-linecap="round"/>
<circle cx="438.2" cy="695.7" r="6" fill="#0000ff"/>
<circle cx="438.2" cy="734" r="6" fill="#0000ff"/>
<circle cx="438.2" cy="783.3" r="6" fill="#0000ff"/>
<circle cx="503.1" cy="948.4" r="6" fill="#ff0000"/>
<circle cx="521" cy="949" r="6" fill="#ff0000"/>
<circle cx="539.3" cy="953" r="6" fill="#ff0000"/>
<text x="430.8" y="664" font-size="27.3" font-style="italic">Atp8b3</text>
<text x="481.9" y="913.3" font-size="20.6">P=0.001</text>
<text x="506.1" y="946.4" font-size="35" stroke="#000" stroke-width="0.5">*</text>
<text x="522.6" y="946.4" font-size="35" stroke="#000" stroke-width="0.5">*</text>
<text x="417.2" y="1003.1" font-size="27.7">WT</text>
<text x="465.4" y="1003.1" font-size="27.7"><tspan font-style="italic">CT47</tspan>-BAC</text>
<text transform="translate(324.3 818.2) rotate(-90)" text-anchor="middle" font-size="28">FPKM</text>
<path d="M687.2 677V967.2" stroke="#000" stroke-width="3.4" fill="none" stroke-linecap="round"/>
<path d="M673.8 967.2H882.3" stroke="#000" stroke-width="3.6" fill="none" stroke-linecap="round"/>
<path d="M673.8 677.7H687.2M673.8 736.4H687.2M673.8 794.8H687.2M673.8 851.9H687.2M673.8 909.3H687.2M673.8 967.2H687.2" stroke="#000" stroke-width="3.3" fill="none" stroke-linecap="round"/>
<text x="622.8" y="686.9" font-size="28">250</text>
<text x="622.8" y="744" font-size="28">200</text>
<text x="622.8" y="802.4" font-size="28">150</text>
<text x="622.8" y="859.5" font-size="28">100</text>
<text x="638.3" y="916.9" font-size="28">50</text>
<text x="653.8" y="974.8" font-size="28">0</text>
<path d="M741.3 967.2V978.6M823.9 967.2V978.6" stroke="#000" stroke-width="3.4" fill="none" stroke-linecap="round"/>
<path d="M716.6 966.2V752.4H767.8V966.2" stroke="#0000ff" stroke-width="3.6" fill="none"/>
<path d="M798.8 966.2V952.4H850V966.2" stroke="#ff0000" stroke-width="3.6" fill="none"/>
<path d="M741.3 701V799.4M728.1 701H754.5M728.1 799.4H754.5" stroke="#0000ff" stroke-width="3.6" fill="none" stroke-linecap="round"/>
<path d="M824.5 944.1V957.5M811.3 944.1H837.7M811.3 957.5H837.7" stroke="#ff0000" stroke-width="3.6" fill="none" stroke-linecap="round"/>
<circle cx="741.3" cy="695.7" r="6" fill="#0000ff"/>
<circle cx="741.3" cy="764" r="6" fill="#0000ff"/>
<circle cx="741.3" cy="791.6" r="6" fill="#0000ff"/>
<circle cx="806.5" cy="943" r="6" fill="#ff0000"/>
<circle cx="823.9" cy="954.3" r="6" fill="#ff0000"/>
<circle cx="843.5" cy="955.1" r="6" fill="#ff0000"/>
<text x="745.9" y="664.3" font-size="28.1" font-style="italic">Ldhc</text>
<text x="782" y="915.4" font-size="21">P=0.0022</text>
<text x="812.2" y="947.8" font-size="35" stroke="#000" stroke-width="0.5">*</text>
<text x="828.7" y="947.8" font-size="35" stroke="#000" stroke-width="0.5">*</text>
<text x="719.8" y="1003.1" font-size="27.7">WT</text>
<text x="768.8" y="1003.1" font-size="27.7"><tspan font-style="italic">CT47</tspan>-BAC</text>
<text transform="translate(616.2 818.2) rotate(-90)" text-anchor="middle" font-size="28">FPKM</text>
<path d="M966.3 677V967.7" stroke="#000" stroke-width="3.4" fill="none" stroke-linecap="round"/>
<path d="M953.7 967.7H1160.9" stroke="#000" stroke-width="3.6" fill="none" stroke-linecap="round"/>
<path d="M953.7 678.2H966.3M953.7 774.7H966.3M953.7 871.2H966.3M953.7 967.7H966.3" stroke="#000" stroke-width="3.3" fill="none" stroke-linecap="round"/>
<text x="932.6" y="685.8" font-size="28">6</text>
<text x="932.3" y="782.3" font-size="28">4</text>
<text x="932.9" y="878.8" font-size="28">2</text>
<text x="932.4" y="975.3" font-size="28">0</text>
<path d="M1020.7 967.7V978.6M1103.3 967.7V978.6" stroke="#000" stroke-width="3.4" fill="none" stroke-linecap="round"/>
<path d="M995.9 966.7V765.3H1046.3V966.7" stroke="#0000ff" stroke-width="3.6" fill="none"/>
<path d="M1078.2 966.7V917.3H1129.4V966.7" stroke="#ff0000" stroke-width="3.6" fill="none"/>
<path d="M1021.2 736.7V789.7M1008 736.7H1034.4M1008 789.7H1034.4" stroke="#0000ff" stroke-width="3.6" fill="none" stroke-linecap="round"/>
<path d="M1103.2 909.3V921.3M1090 909.3H1116.4M1090 921.3H1116.4" stroke="#ff0000" stroke-width="3.6" fill="none" stroke-linecap="round"/>
<circle cx="1020.7" cy="732.7" r="6" fill="#0000ff"/>
<circle cx="1015.4" cy="776.1" r="6" fill="#0000ff"/>
<circle cx="1026.9" cy="780.9" r="6" fill="#0000ff"/>
<circle cx="1085" cy="910.6" r="6" fill="#ff0000"/>
<circle cx="1103" cy="913.3" r="6" fill="#ff0000"/>
<circle cx="1121.8" cy="923.5" r="6" fill="#ff0000"/>
<text x="1023.3" y="664.3" font-size="28.6" font-style="italic">Dnah</text>
<text x="1055.7" y="877.9" font-size="20.9">P=0.00064</text>
<text x="1078.2" y="908.1" font-size="35" stroke="#000" stroke-width="0.5">*</text>
<text x="1094.7" y="908.1" font-size="35" stroke="#000" stroke-width="0.5">*</text>
<text x="1111.2" y="908.1" font-size="35" stroke="#000" stroke-width="0.5">*</text>
<text x="999.2" y="1003.1" font-size="27.7">WT</text>
<text x="1048.7" y="1003.1" font-size="27.7"><tspan font-style="italic">CT47</tspan>-BAC</text>
<text transform="translate(922.9 818.2) rotate(-90)" text-anchor="middle" font-size="28">FPKM</text>
<path d="M1239.2 673V964.5" stroke="#000" stroke-width="3.4" fill="none" stroke-linecap="round"/>
<path d="M1225.8 964.5H1434.3" stroke="#000" stroke-width="3.6" fill="none" stroke-linecap="round"/>
<path d="M1225.8 675.6H1239.2M1225.8 772H1239.2M1225.8 868H1239.2M1225.8 964.5H1239.2" stroke="#000" stroke-width="3.3" fill="none" stroke-linecap="round"/>
<text x="1174.8" y="683.6" font-size="28">150</text>
<text x="1174.8" y="780" font-size="28">100</text>
<text x="1190.3" y="876" font-size="28">50</text>
<text x="1205.8" y="972.5" font-size="28">0</text>
<path d="M1293.3 964.5V975.5M1376.4 964.5V975.5" stroke="#000" stroke-width="3.4" fill="none" stroke-linecap="round"/>
<path d="M1269 963.5V736.6H1318.9V963.5" stroke="#0000ff" stroke-width="3.6" fill="none"/>
<path d="M1351.6 963.5V844.9H1401.5V963.5" stroke="#ff0000" stroke-width="3.6" fill="none"/>
<path d="M1294.1 696.2V772M1280.9 696.2H1307.3M1280.9 772H1307.3" stroke="#0000ff" stroke-width="3.6" fill="none" stroke-linecap="round"/>
<path d="M1376.6 815V871.2M1363.4 815H1389.8M1363.4 871.2H1389.8" stroke="#ff0000" stroke-width="3.6" fill="none" stroke-linecap="round"/>
<circle cx="1293.3" cy="693" r="6" fill="#0000ff"/>
<circle cx="1293.3" cy="739.9" r="6" fill="#0000ff"/>
<circle cx="1293.3" cy="768.6" r="6" fill="#0000ff"/>
<circle cx="1376.4" cy="811.7" r="6" fill="#ff0000"/>
<circle cx="1376.4" cy="849.8" r="6" fill="#ff0000"/>
<circle cx="1376.4" cy="865.9" r="6" fill="#ff0000"/>
<text x="1290.6" y="664.3" font-size="27.5" font-style="italic">Spa17</text>
<text x="1336.6" y="784.9" font-size="21">P=0.016</text>
<text x="1370.3" y="814.4" font-size="35" stroke="#000" stroke-width="0.5">*</text>
<text x="1271.2" y="999.9" font-size="27.7">WT</text>
<text x="1319.4" y="999.9" font-size="27.7"><tspan font-style="italic">CT47</tspan>-BAC</text>
<text transform="translate(1172.7 814.3) rotate(-90)" text-anchor="middle" font-size="28">FPKM</text>
<path d="M1529.2 674.5V965" stroke="#000" stroke-width="3.4" fill="none" stroke-linecap="round"/>
<path d="M1515.8 965H1724.3" stroke="#000" stroke-width="3.6" fill="none" stroke-linecap="round"/>
<path d="M1515.8 676.9H1529.2M1515.8 735.1H1529.2M1515.8 792.2H1529.2M1515.8 849.8H1529.2M1515.8 907.4H1529.2M1515.8 965H1529.2" stroke="#000" stroke-width="3.3" fill="none" stroke-linecap="round"/>
<text x="1463.5" y="684.5" font-size="28">100</text>
<text x="1479" y="742.7" font-size="28">80</text>
<text x="1479" y="799.8" font-size="28">60</text>
<text x="1479" y="857.4" font-size="28">40</text>
<text x="1479" y="915" font-size="28">20</text>
<text x="1494.5" y="972.6" font-size="28">0</text>
<path d="M1583.3 965V976M1665.9 965V976" stroke="#000" stroke-width="3.4" fill="none" stroke-linecap="round"/>
<path d="M1559.1 964V758.1H1609V964" stroke="#0000ff" stroke-width="3.6" fill="none"/>
<path d="M1640.8 964V903.9H1692V964" stroke="#ff0000" stroke-width="3.6" fill="none"/>
<path d="M1583.9 735.3V776.9M1570.4 735.3H1597.4M1570.4 776.9H1597.4" stroke="#0000ff" stroke-width="3.6" fill="none" stroke-linecap="round"/>
<path d="M1667.2 900.7V904.7M1651.7 900.7H1682.7M1651.7 904.7H1682.7" stroke="#ff0000" stroke-width="3.6" fill="none" stroke-linecap="round"/>
<circle cx="1583.3" cy="732.7" r="6" fill="#0000ff"/>
<circle cx="1577.5" cy="762.7" r="6" fill="#0000ff"/>
<circle cx="1588.7" cy="771.5" r="6" fill="#0000ff"/>
<circle cx="1647.9" cy="898.8" r="6" fill="#ff0000"/>
<circle cx="1665.9" cy="903.4" r="6" fill="#ff0000"/>
<circle cx="1685.2" cy="904.7" r="6" fill="#ff0000"/>
<text x="1589.3" y="664.3" font-size="28.7" font-style="italic">Clgn</text>
<text x="1613.8" y="865.1" font-size="21.1">P=0.00025</text>
<text x="1640.8" y="897.4" font-size="35" stroke="#000" stroke-width="0.5">*</text>
<text x="1657.3" y="897.4" font-size="35" stroke="#000" stroke-width="0.5">*</text>
<text x="1673.8" y="897.4" font-size="35" stroke="#000" stroke-width="0.5">*</text>
<text x="1559.9" y="1002" font-size="27.7">WT</text>
<text x="1609.5" y="1002" font-size="27.7"><tspan font-style="italic">CT47</tspan>-BAC</text>
<text transform="translate(1463.5 815.7) rotate(-90)" text-anchor="middle" font-size="28">FPKM</text>
<path d="M86.7 1102.5V1402" stroke="#000" stroke-width="3.4" fill="none" stroke-linecap="round"/>
<path d="M73.3 1402H287.7" stroke="#000" stroke-width="3.6" fill="none" stroke-linecap="round"/>
<path d="M73.3 1103.7H86.7M73.3 1178.5H86.7M73.3 1253.3H86.7M73.3 1327.4H86.7M73.3 1402H86.7" stroke="#000" stroke-width="3.3" fill="none" stroke-linecap="round"/>
<text x="40.2" y="1103.1" font-size="28">80</text>
<text x="40.2" y="1182.5" font-size="28">60</text>
<text x="40.2" y="1260.5" font-size="28">40</text>
<text x="40.2" y="1339.7" font-size="28">20</text>
<text x="53.9" y="1420.5" font-size="28">0</text>
<path d="M143 1402V1416M228.3 1402V1416" stroke="#000" stroke-width="3.4" fill="none" stroke-linecap="round"/>
<path d="M116.6 1401V1175.3H169.4V1401" stroke="#0000ff" stroke-width="3.6" fill="none"/>
<path d="M202 1401V1380.2H254.4V1401" stroke="#ff0000" stroke-width="3.6" fill="none"/>
<path d="M143.2 1156V1188.4M129.5 1156H156.9M129.5 1188.4H156.9" stroke="#0000ff" stroke-width="3.6" fill="none" stroke-linecap="round"/>
<path d="M228.7 1374.4V1378.9M208.7 1374.4H248.7M208.7 1378.9H248.7" stroke="#ff0000" stroke-width="3.6" fill="none" stroke-linecap="round"/>
<circle cx="137.6" cy="1160.6" r="6" fill="#0000ff"/>
<circle cx="148.6" cy="1166.5" r="6" fill="#0000ff"/>
<circle cx="142.9" cy="1192" r="6" fill="#0000ff"/>
<circle cx="209.3" cy="1372.9" r="6" fill="#ff0000"/>
<circle cx="228.8" cy="1380.3" r="6" fill="#ff0000"/>
<circle cx="246.7" cy="1379.7" r="6" fill="#ff0000"/>
<text x="160.7" y="1090.3" font-size="27.6" font-style="italic">Piwil1</text>
<text x="185.2" y="1338.5" font-size="20.7">P&lt;0.0001</text>
<text x="205.7" y="1371.2" font-size="35" stroke="#000" stroke-width="0.5">*</text>
<text x="222.2" y="1371.2" font-size="35" stroke="#000" stroke-width="0.5">*</text>
<text x="238.7" y="1371.2" font-size="35" stroke="#000" stroke-width="0.5">*</text>
<text x="104.8" y="1453.9" font-size="27.7">WT</text>
<text x="161.1" y="1453.9" font-size="27.7"><tspan font-style="italic">CT47</tspan>-BAC</text>
<text transform="translate(29.9 1251) rotate(-90)" text-anchor="middle" font-size="28">FPKM</text>
<path d="M382.1 1107.5V1411.7" stroke="#000" stroke-width="3.4" fill="none" stroke-linecap="round"/>
<path d="M368.5 1411.7H586" stroke="#000" stroke-width="3.6" fill="none" stroke-linecap="round"/>
<path d="M368.5 1109H382.1M368.5 1210H382.1M368.5 1310.7H382.1M368.5 1411.7H382.1" stroke="#000" stroke-width="3.3" fill="none" stroke-linecap="round"/>
<text x="319.3" y="1117.3" font-size="28">120</text>
<text x="319.3" y="1218.3" font-size="28">100</text>
<text x="327" y="1318.5" font-size="28">8 0</text>
<text x="327" y="1418.7" font-size="28">6 0</text>
<path d="M439.2 1411.7V1424.2M525.4 1411.7V1424.2" stroke="#000" stroke-width="3.4" fill="none" stroke-linecap="round"/>
<path d="M413.9 1410.7V1181.5H465.2V1410.7" stroke="#0000ff" stroke-width="3.6" fill="none"/>
<path d="M500.2 1410.7V1383.8H551.5V1410.7" stroke="#ff0000" stroke-width="3.6" fill="none"/>
<path d="M439.7 1156.6V1200.8M425.7 1156.6H453.7M425.7 1200.8H453.7" stroke="#0000ff" stroke-width="3.6" fill="none" stroke-linecap="round"/>
<path d="M526.2 1375.5V1386.1M512.5 1375.5H539.9M512.5 1386.1H539.9" stroke="#ff0000" stroke-width="3.6" fill="none" stroke-linecap="round"/>
<circle cx="439.2" cy="1153.8" r="6" fill="#0000ff"/>
<circle cx="433" cy="1185.5" r="6" fill="#0000ff"/>
<circle cx="445.6" cy="1196.6" r="6" fill="#0000ff"/>
<circle cx="506.8" cy="1377" r="6" fill="#ff0000"/>
<circle cx="525.4" cy="1378.3" r="6" fill="#ff0000"/>
<circle cx="545.7" cy="1387.5" r="6" fill="#ff0000"/>
<text x="455.9" y="1090.3" font-size="27.6" font-style="italic">Piwil2</text>
<text x="482.3" y="1343.5" font-size="20.7">P=0.0001</text>
<text x="501.1" y="1374.1" font-size="35" stroke="#000" stroke-width="0.5">*</text>
<text x="517.6" y="1374.1" font-size="35" stroke="#000" stroke-width="0.5">*</text>
<text x="534.1" y="1374.1" font-size="35" stroke="#000" stroke-width="0.5">*</text>
<text x="413.5" y="1453.9" font-size="27.7">WT</text>
<text x="469.1" y="1453.9" font-size="27.7"><tspan font-style="italic">CT47</tspan>-BAC</text>
<text transform="translate(313.4 1255.9) rotate(-90)" text-anchor="middle" font-size="28">FPKM</text>
<path d="M686.3 1092V1410.9" stroke="#000" stroke-width="3.4" fill="none" stroke-linecap="round"/>
<path d="M673.2 1410.9H879.1" stroke="#000" stroke-width="3.6" fill="none" stroke-linecap="round"/>
<path d="M673.2 1093.7H686.3M673.2 1173.3H686.3M673.2 1252.3H686.3M673.2 1331.6H686.3M673.2 1410.9H686.3" stroke="#000" stroke-width="3.3" fill="none" stroke-linecap="round"/>
<text x="640.3" y="1102.3" font-size="28">40</text>
<text x="640.3" y="1181.6" font-size="28">30</text>
<text x="640.3" y="1260.8" font-size="28">20</text>
<text x="640.3" y="1340" font-size="28">10</text>
<text x="655.8" y="1418.7" font-size="28">0</text>
<path d="M740 1410.9V1424.2M822.1 1410.9V1424.2" stroke="#000" stroke-width="3.4" fill="none" stroke-linecap="round"/>
<path d="M716.2 1409.9V1194H765.2V1409.9" stroke="#0000ff" stroke-width="3.6" fill="none"/>
<path d="M798.2 1409.9V1305.9H846.5V1409.9" stroke="#ff0000" stroke-width="3.6" fill="none"/>
<path d="M741 1180.8V1200.8M727.7 1180.8H754.3M727.7 1200.8H754.3" stroke="#0000ff" stroke-width="3.6" fill="none" stroke-linecap="round"/>
<path d="M822.5 1291.5V1314.9M809.2 1291.5H835.8M809.2 1314.9H835.8" stroke="#ff0000" stroke-width="3.6" fill="none" stroke-linecap="round"/>
<circle cx="740.8" cy="1180.8" r="6" fill="#0000ff"/>
<circle cx="735.3" cy="1189.1" r="6" fill="#0000ff"/>
<circle cx="746.4" cy="1202.5" r="6" fill="#0000ff"/>
<circle cx="817.1" cy="1293.5" r="6" fill="#ff0000"/>
<circle cx="827.6" cy="1299.9" r="6" fill="#ff0000"/>
<circle cx="822.1" cy="1317.7" r="6" fill="#ff0000"/>
<text x="761.7" y="1090.3" font-size="27.8" font-style="italic">Tdrd12</text>
<text x="776.7" y="1262.9" font-size="20.8">P=0.00021</text>
<text x="799.7" y="1290.6" font-size="35" stroke="#000" stroke-width="0.5">*</text>
<text x="816.2" y="1290.6" font-size="35" stroke="#000" stroke-width="0.5">*</text>
<text x="832.7" y="1290.6" font-size="35" stroke="#000" stroke-width="0.5">*</text>
<text x="709.3" y="1453.9" font-size="27.7">WT</text>
<text x="764.9" y="1453.9" font-size="27.7"><tspan font-style="italic">CT47</tspan>-BAC</text>
<text transform="translate(630.1 1241.5) rotate(-90)" text-anchor="middle" font-size="28">FPKM</text>
<path d="M971.4 1088V1407.6" stroke="#000" stroke-width="3.4" fill="none" stroke-linecap="round"/>
<path d="M958.5 1407.6H1168.3" stroke="#000" stroke-width="3.6" fill="none" stroke-linecap="round"/>
<path d="M958.5 1089.8H971.4M958.5 1195.2H971.4M958.5 1301H971.4M958.5 1407.6H971.4" stroke="#000" stroke-width="3.3" fill="none" stroke-linecap="round"/>
<text x="924.8" y="1098.7" font-size="28">60</text>
<text x="924.8" y="1204" font-size="28">40</text>
<text x="924.8" y="1309.5" font-size="28">20</text>
<text x="940.3" y="1416.8" font-size="28">0</text>
<path d="M1027.2 1407.6V1421.5M1109.8 1407.6V1421.5" stroke="#000" stroke-width="3.4" fill="none" stroke-linecap="round"/>
<path d="M1002 1406.6V1147.3H1051.6V1406.6" stroke="#0000ff" stroke-width="3.6" fill="none"/>
<path d="M1085.4 1406.6V1280.8H1134.5V1406.6" stroke="#ff0000" stroke-width="3.6" fill="none"/>
<path d="M1027 1123.2V1164.9M1013.5 1123.2H1040.5M1013.5 1164.9H1040.5" stroke="#0000ff" stroke-width="3.6" fill="none" stroke-linecap="round"/>
<path d="M1108.6 1272.6V1282.3M1094.2 1272.6H1123M1094.2 1282.3H1123" stroke="#ff0000" stroke-width="3.6" fill="none" stroke-linecap="round"/>
<circle cx="1021.6" cy="1130.7" r="6" fill="#0000ff"/>
<circle cx="1031.4" cy="1133.5" r="6" fill="#0000ff"/>
<circle cx="1027.2" cy="1168.3" r="6" fill="#0000ff"/>
<circle cx="1091.8" cy="1272.6" r="6" fill="#ff0000"/>
<circle cx="1109.8" cy="1276.8" r="6" fill="#ff0000"/>
<circle cx="1128.8" cy="1283.2" r="6" fill="#ff0000"/>
<text x="1033.1" y="1090.3" font-size="27.4" font-style="italic">Tdrd1</text>
<text x="1068.1" y="1235" font-size="21">P=0.0004</text>
<text x="1086.4" y="1265.6" font-size="35" stroke="#000" stroke-width="0.5">*</text>
<text x="1102.9" y="1265.6" font-size="35" stroke="#000" stroke-width="0.5">*</text>
<text x="1119.4" y="1265.6" font-size="35" stroke="#000" stroke-width="0.5">*</text>
<text x="999.3" y="1453.9" font-size="27.7">WT</text>
<text x="1054.4" y="1453.9" font-size="27.7"><tspan font-style="italic">CT47</tspan>-BAC</text>
<text transform="translate(914.5 1247.3) rotate(-90)" text-anchor="middle" font-size="28">FPKM</text>
<path d="M1243.8 1089.5V1407.5" stroke="#000" stroke-width="3.4" fill="none" stroke-linecap="round"/>
<path d="M1230.1 1407.5H1457.5" stroke="#000" stroke-width="3.6" fill="none" stroke-linecap="round"/>
<path d="M1230.1 1090.3H1243.8M1230.1 1169.6H1243.8M1230.1 1249H1243.8M1230.1 1328.2H1243.8M1230.1 1407.5H1243.8" stroke="#000" stroke-width="3.3" fill="none" stroke-linecap="round"/>
<text x="1196.4" y="1098.7" font-size="28">40</text>
<text x="1196.4" y="1178.1" font-size="28">30</text>
<text x="1196.4" y="1257.4" font-size="28">20</text>
<text x="1196.4" y="1336.6" font-size="28">10</text>
<text x="1211.9" y="1415" font-size="28">0</text>
<path d="M1303 1407.5V1421.5M1394.9 1407.5V1421.5" stroke="#000" stroke-width="3.4" fill="none" stroke-linecap="round"/>
<path d="M1277.2 1406.5V1186.3H1331V1406.5" stroke="#0000ff" stroke-width="3.6" fill="none"/>
<path d="M1367.7 1406.5V1324H1421.5V1406.5" stroke="#ff0000" stroke-width="3.6" fill="none"/>
<path d="M1304.1 1163.2V1203M1290.1 1163.2H1318.1M1290.1 1203H1318.1" stroke="#0000ff" stroke-width="3.6" fill="none" stroke-linecap="round"/>
<path d="M1394.4 1309.3V1332.4M1380.2 1309.3H1408.6M1380.2 1332.4H1408.6" stroke="#ff0000" stroke-width="3.6" fill="none" stroke-linecap="round"/>
<circle cx="1303.9" cy="1159.9" r="6" fill="#0000ff"/>
<circle cx="1298.9" cy="1189.1" r="6" fill="#0000ff"/>
<circle cx="1310" cy="1198.9" r="6" fill="#0000ff"/>
<circle cx="1394.3" cy="1308.8" r="6" fill="#ff0000"/>
<circle cx="1388.7" cy="1321.3" r="6" fill="#ff0000"/>
<circle cx="1400.4" cy="1331.6" r="6" fill="#ff0000"/>
<text x="1313.2" y="1090.3" font-size="27" font-style="italic">Tdrd5</text>
<text x="1342.5" y="1271.2" font-size="21">P=0.00047</text>
<text x="1370.3" y="1304.5" font-size="35" stroke="#000" stroke-width="0.5">*</text>
<text x="1386.8" y="1304.5" font-size="35" stroke="#000" stroke-width="0.5">*</text>
<text x="1403.3" y="1304.5" font-size="35" stroke="#000" stroke-width="0.5">*</text>
<text x="1279.9" y="1453.9" font-size="27.7">WT</text>
<text x="1334.4" y="1453.9" font-size="27.7"><tspan font-style="italic">CT47</tspan>-BAC</text>
<text transform="translate(1193.1 1247.3) rotate(-90)" text-anchor="middle" font-size="28">FPKM</text>
<text x="-1.1" y="30.8" font-size="43" font-weight="bold">A</text>
<text x="463.9" y="30.8" font-size="43" font-weight="bold">B</text>
<text x="893.8" y="31.2" font-size="43" font-weight="bold">C</text>
<text x="-0.6" y="627" font-size="43" font-weight="bold">D</text>
<text x="-0.4" y="1060.5" font-size="43" font-weight="bold">E</text>
</svg></body></html>
